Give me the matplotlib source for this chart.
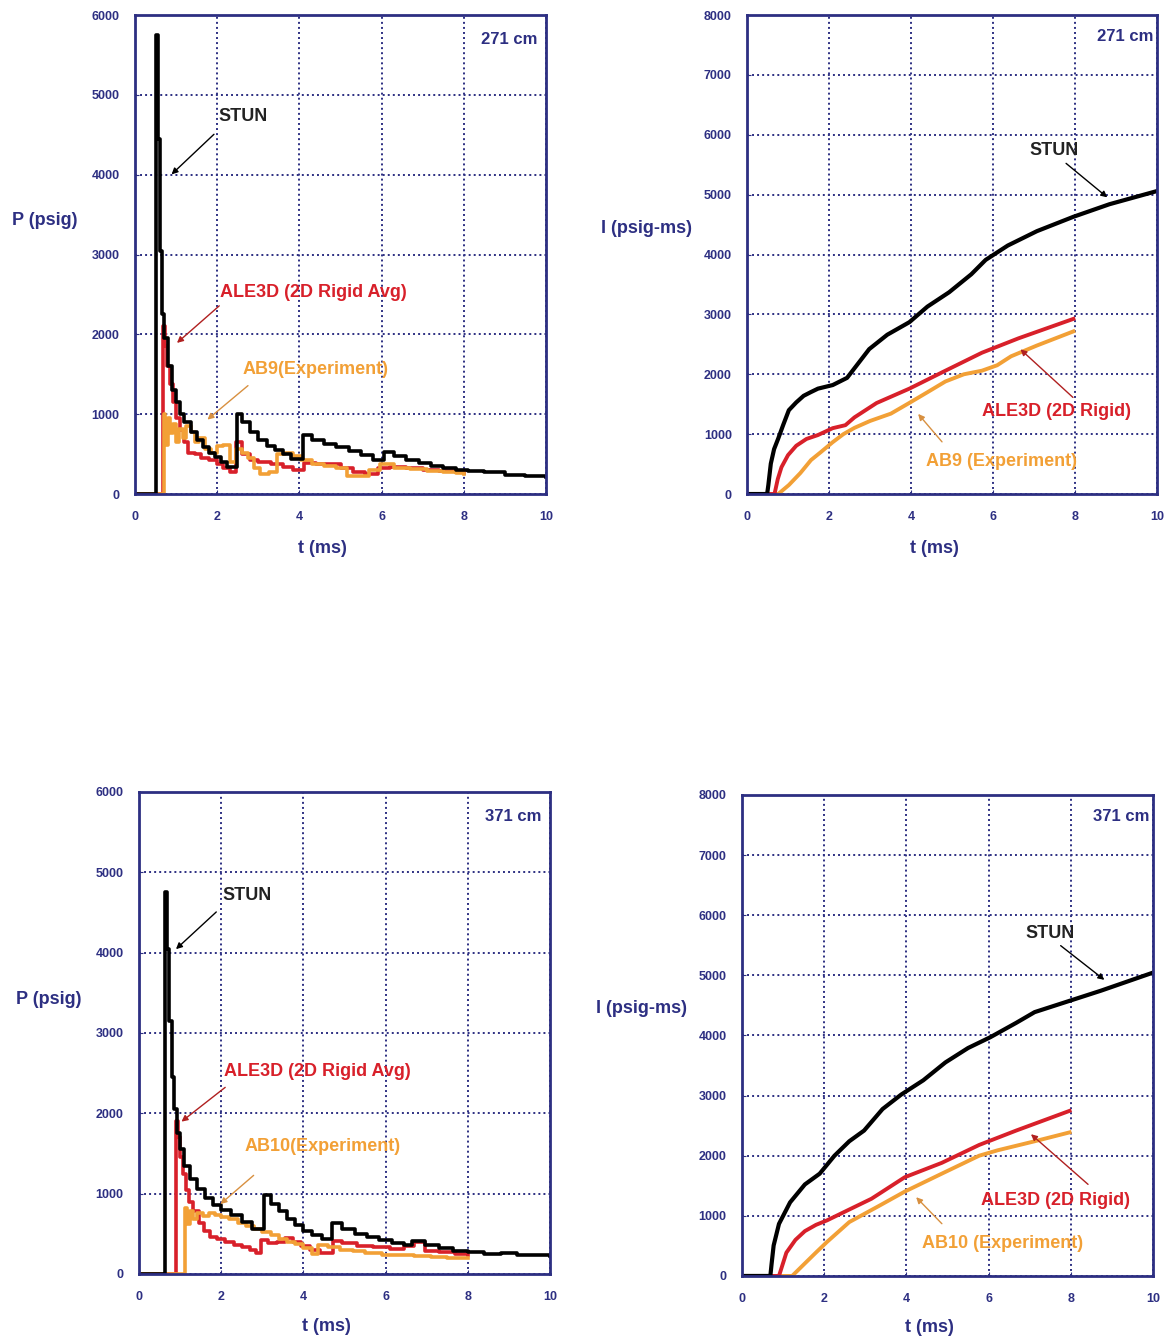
import matplotlib
matplotlib.use("Agg")
import matplotlib.pyplot as plt

plt.rcParams['font.family'] = ['Liberation Sans', 'DejaVu Sans']
plt.rcParams['font.weight'] = 'bold'

NAVY = '#2d2f82'
BLACK = '#000000'
RED = '#d8202a'
ORANGE = '#f2a036'

# ---- 271 cm pressure ----
t_p271_stun = [0, 0.5, 0.55, 0.6, 0.65, 0.7, 0.8, 0.9, 1.0, 1.1, 1.2, 1.35, 1.5, 1.65, 1.8, 1.95, 2.1, 2.25, 2.47, 2.6,
               2.8, 3.0, 3.2, 3.4, 3.6, 3.8, 4.08, 4.3, 4.6, 4.9, 5.2, 5.5, 5.8, 6.05, 6.3, 6.6, 6.9, 7.2, 7.5, 7.8,
               8.1, 8.5, 9.0, 9.5, 10.0]
p271_stun = [0, 5750, 4450, 3050, 2250, 1950, 1600, 1300, 1150, 1000, 900, 780, 680, 590, 520, 460, 400, 340, 1000, 900,
             780, 680, 600, 550, 500, 440, 740, 680, 630, 590, 540, 490, 430, 530, 480, 430, 390, 350, 320, 300,
             290, 270, 240, 220, 210]
t_p271_ale = [0, 0.67, 0.72, 0.78, 0.85, 0.92, 1.0, 1.1, 1.2, 1.3, 1.45, 1.6, 1.8, 2.0, 2.15, 2.3, 2.45, 2.6, 2.8, 3.0,
              3.3, 3.6, 3.85, 4.1, 4.4, 4.7, 5.0, 5.3, 5.6, 5.9, 6.2, 6.6, 7.0, 7.4, 7.8, 8.0]
p271_ale = [0, 2100, 1850, 1600, 1380, 1150, 950, 800, 650, 520, 500, 450, 420, 380, 330, 280, 650, 500, 430, 400,
            380, 340, 300, 390, 370, 380, 330, 280, 250, 330, 340, 320, 300, 290, 270, 260]
t_p271_exp = [0, 0.7, 0.74, 0.8, 0.86, 0.92, 1.0, 1.08, 1.16, 1.25, 1.35, 1.45, 1.55, 1.7, 1.85, 2.0, 2.15, 2.3, 2.45,
              2.6, 2.75, 2.9, 3.05, 3.25, 3.45, 3.65, 3.85, 4.05, 4.3, 4.6, 4.9, 5.15, 5.4, 5.7, 5.95, 6.3, 6.7, 7.1,
              7.5, 7.8, 8.0]
p271_exp = [0, 1000, 620, 950, 760, 880, 650, 820, 700, 850, 780, 650, 700, 560, 520, 600, 620, 400, 560,
            520, 450, 330, 250, 280, 500, 520, 480, 420, 380, 350, 330, 230, 220, 300, 370, 330, 310, 290,
            270, 260, 250]

# ---- 371 cm pressure ----
t_p371_stun = [0, 0.63, 0.68, 0.74, 0.8, 0.86, 0.92, 1.0, 1.1, 1.25, 1.4, 1.6, 1.8, 2.0, 2.25, 2.5, 2.75, 3.03, 3.2,
               3.4, 3.6, 3.8, 4.0, 4.2, 4.45, 4.7, 4.95, 5.25, 5.55, 5.85, 6.15, 6.45, 6.65, 6.95, 7.3, 7.65, 8.0,
               8.4, 8.8, 9.2, 9.6, 10.0]
p371_stun = [0, 4750, 4050, 3150, 2450, 2050, 1750, 1550, 1350, 1180, 1060, 950, 860, 790, 730, 650, 560, 980, 870,
             780, 690, 610, 540, 490, 440, 630, 560, 500, 460, 420, 390, 360, 410, 360, 320, 290, 270,
             250, 260, 240, 230, 220]
t_p371_ale = [0, 0.89, 0.94, 1.0, 1.06, 1.14, 1.22, 1.32, 1.45, 1.58, 1.72, 1.9, 2.1, 2.3, 2.5, 2.7, 2.85, 2.98, 3.15,
              3.35, 3.55, 3.75, 3.95, 4.15, 4.4, 4.72, 4.95, 5.3, 5.7, 6.1, 6.45, 6.7, 6.95, 7.3, 7.7, 8.0]
p371_ale = [0, 1900, 1700, 1450, 1250, 1050, 900, 780, 640, 540, 460, 430, 400, 360, 330, 300, 260, 420, 380,
            400, 450, 400, 350, 300, 260, 410, 380, 350, 330, 310, 350, 400, 290, 270, 250, 230]
t_p371_exp = [0, 1.13, 1.18, 1.24, 1.32, 1.42, 1.55, 1.7, 1.85, 2.0, 2.2, 2.4, 2.6, 2.8, 3.0, 3.2, 3.4, 3.6, 3.8, 4.0,
              4.2, 4.35, 4.6, 4.9, 5.2, 5.5, 5.9, 6.3, 6.7, 7.1, 7.5, 8.0]
p371_exp = [0, 820, 620, 780, 680, 760, 720, 760, 730, 710, 680, 640, 600, 560, 520, 480, 440, 400, 370, 320,
            250, 360, 330, 300, 280, 260, 240, 230, 220, 210, 200, 200]

# ---- 271 cm impulse ----
t_i271_stun = [0, 0.49, 0.52, 0.58, 0.66, 0.76, 0.88, 1.02, 1.2, 1.38, 1.55, 1.73, 2.09, 2.44, 2.71, 2.98, 3.42, 3.96,
               4.4, 4.93, 5.47, 5.82, 6.36, 7.07, 7.96, 8.84, 10.0]
i271_stun = [0, 0, 150, 507, 750, 925, 1150, 1400, 1530, 1640, 1700, 1760, 1820, 1940, 2180, 2420, 2660, 2870,
             3130, 3370, 3670, 3910, 4150, 4390, 4630, 4840, 5060]
t_i271_ale = [0, 0.67, 0.75, 0.84, 1.0, 1.2, 1.45, 1.73, 2.09, 2.4, 2.62, 3.16, 3.96, 4.84, 5.73, 6.62, 7.96]
i271_ale = [0, 0, 250, 448, 650, 806, 920, 985, 1100, 1150, 1280, 1520, 1760, 2060, 2360, 2600, 2925]
t_i271_exp = [0, 0.76, 1.02, 1.3, 1.56, 1.8, 2.09, 2.35, 2.62, 3.0, 3.51, 3.96, 4.4, 4.84, 5.29, 5.73, 6.1, 6.44,
              7.07, 7.96]
i271_exp = [0, 0, 150, 350, 567, 700, 866, 1000, 1105, 1220, 1343, 1522, 1700, 1880, 2000, 2060, 2150, 2300,
            2480, 2716]

# ---- 371 cm impulse ----
t_i371_stun = [0, 0.69, 0.72, 0.77, 0.9, 1.17, 1.53, 1.89, 2.25, 2.61, 2.97, 3.42, 3.87, 4.41, 4.95, 5.5, 6.04, 6.67,
               7.12, 7.93, 8.74, 10.0]
i371_stun = [0, 0, 200, 507, 866, 1224, 1522, 1701, 2000, 2240, 2418, 2776, 3015, 3254, 3552, 3791, 3970, 4209,
             4388, 4567, 4746, 5045]
t_i371_ale = [0, 0.9, 1.08, 1.3, 1.53, 1.8, 2.07, 2.61, 3.15, 3.96, 4.86, 5.77, 6.67, 7.97]
i371_ale = [0, 0, 388, 600, 746, 850, 925, 1105, 1284, 1642, 1881, 2179, 2418, 2746]
t_i371_exp = [0, 1.22, 1.53, 1.8, 2.07, 2.61, 3.33, 3.96, 4.86, 5.77, 6.22, 7.12, 7.97]
i371_exp = [0, 0, 209, 390, 567, 896, 1164, 1403, 1701, 2000, 2090, 2240, 2388]


def style_axes(ax, ymax, ystep, xlab_pos):
    ax.set_xlim(0, 10)
    ax.set_ylim(0, ymax)
    ax.set_xticks(range(0, 11, 2))
    ax.set_yticks(range(0, ymax + 1, ystep))
    ax.grid(True, linestyle=(0, (1, 1.6)), color=NAVY, linewidth=1.4)
    ax.tick_params(colors=NAVY, labelsize=9, direction='in', length=3)
    ax.tick_params(axis='x', pad=12)
    ax.tick_params(axis='y', pad=11)
    for lab in ax.get_xticklabels() + ax.get_yticklabels():
        lab.set_fontweight('bold')
    for s in ax.spines.values():
        s.set_color(NAVY)
        s.set_linewidth(2)
    ax.set_xlabel('t (ms)', color=NAVY, fontsize=13, fontweight='bold')
    ax.xaxis.set_label_coords(xlab_pos[0], xlab_pos[1])
    ax.xaxis.label.set_verticalalignment('center')


def note(ax, xy, xytext, head):
    ax.annotate('', xy=xy, xytext=xytext,
                arrowprops=dict(arrowstyle='-|>', color=head, lw=1.0, mutation_scale=9))


fig = plt.figure(figsize=(11.72, 13.41), dpi=100)
ax1 = fig.add_axes([0.1152, 0.6316, 0.3507, 0.3572])
ax2 = fig.add_axes([0.6374, 0.6316, 0.3498, 0.3572])
ax3 = fig.add_axes([0.1186, 0.0500, 0.3507, 0.3594])
ax4 = fig.add_axes([0.6331, 0.0485, 0.3507, 0.3587])

# pressure panels
for ax, data, dist, xlab_pos, ylab_y in [
        (ax1, (t_p271_stun, p271_stun, t_p271_ale, p271_ale, t_p271_exp, p271_exp), '271 cm', (0.455, -0.113), 0.57),
        (ax3, (t_p371_stun, p371_stun, t_p371_ale, p371_ale, t_p371_exp, p371_exp), '371 cm', (0.457, -0.108), 0.57)]:
    ts, ps, ta, pa, te, pe = data
    ax.plot(ta, pa, color=RED, lw=2.6, drawstyle='steps-post')
    ax.plot(te, pe, color=ORANGE, lw=2.6, drawstyle='steps-post')
    ax.plot(ts, ps, color=BLACK, lw=2.6, drawstyle='steps-post')
    style_axes(ax, 6000, 1000, xlab_pos)
    ax.text(-0.3, ylab_y, 'P (psig)', transform=ax.transAxes, color=NAVY, fontsize=13,
            fontweight='bold', ha='left', va='center')
    ax.text(9.8, 5690, dist, color=NAVY, fontsize=12, fontweight='bold', ha='right', va='center')

ax1.text(2.02, 4730, 'STUN', color='#222222', fontsize=13, fontweight='bold', va='center')
note(ax1, (0.84, 3980), (1.97, 4530), BLACK)
ax1.text(2.06, 2530, 'ALE3D (2D Rigid Avg)', color=RED, fontsize=13, fontweight='bold', va='center')
note(ax1, (0.97, 1870), (2.1, 2380), '#b02020')
ax1.text(2.62, 1555, 'AB9(Experiment)', color=ORANGE, fontsize=13, fontweight='bold', va='center')
note(ax1, (1.71, 910), (2.8, 1380), '#d89040')

ax3.text(2.02, 4710, 'STUN', color='#222222', fontsize=13, fontweight='bold', va='center')
note(ax3, (0.85, 4020), (1.93, 4530), BLACK)
ax3.text(2.06, 2520, 'ALE3D (2D Rigid Avg)', color=RED, fontsize=13, fontweight='bold', va='center')
note(ax3, (0.98, 1875), (2.15, 2344), '#b02020')
ax3.text(2.58, 1585, 'AB10(Experiment)', color=ORANGE, fontsize=13, fontweight='bold', va='center')
note(ax3, (1.93, 848), (2.84, 1250), '#d89040')

# impulse panels
for ax, data, dist, xlab_pos in [
        (ax2, (t_i271_stun, i271_stun, t_i271_ale, i271_ale, t_i271_exp, i271_exp), '271 cm', (0.456, -0.113)),
        (ax4, (t_i371_stun, i371_stun, t_i371_ale, i371_ale, t_i371_exp, i371_exp), '371 cm', (0.457, -0.108))]:
    ts, vs, ta, va_, te, ve = data
    ax.plot(te, ve, color=ORANGE, lw=2.8)
    ax.plot(ta, va_, color=RED, lw=2.8)
    ax.plot(ts, vs, color=BLACK, lw=3.0)
    style_axes(ax, 8000, 1000, xlab_pos)
    ax.text(-0.355, 0.555, 'I (psig-ms)', transform=ax.transAxes, color=NAVY, fontsize=13,
            fontweight='bold', ha='left', va='center')
    ax.text(9.9, 7640, dist, color=NAVY, fontsize=12, fontweight='bold', ha='right', va='center')

ax2.text(6.89, 5730, 'STUN', color='#222222', fontsize=13, fontweight='bold', va='center')
note(ax2, (8.84, 4925), (7.73, 5552), BLACK)
ax2.text(5.73, 1373, 'ALE3D (2D Rigid)', color=RED, fontsize=13, fontweight='bold', va='center')
note(ax2, (6.62, 2448), (8.0, 1582), '#b02020')
ax2.text(4.36, 537, 'AB9 (Experiment)', color=ORANGE, fontsize=13, fontweight='bold', va='center')
note(ax2, (4.13, 1373), (4.8, 836), '#d89040')

ax4.text(6.89, 5700, 'STUN', color='#222222', fontsize=13, fontweight='bold', va='center')
note(ax4, (8.87, 4896), (7.7, 5522), BLACK)
ax4.text(5.81, 1254, 'ALE3D (2D Rigid)', color=RED, fontsize=13, fontweight='bold', va='center')
note(ax4, (6.98, 2388), (8.47, 1493), '#b02020')
ax4.text(4.37, 537, 'AB10 (Experiment)', color=ORANGE, fontsize=13, fontweight='bold', va='center')
note(ax4, (4.19, 1343), (4.91, 836), '#d89040')

fig.savefig('out.png', dpi=100)
